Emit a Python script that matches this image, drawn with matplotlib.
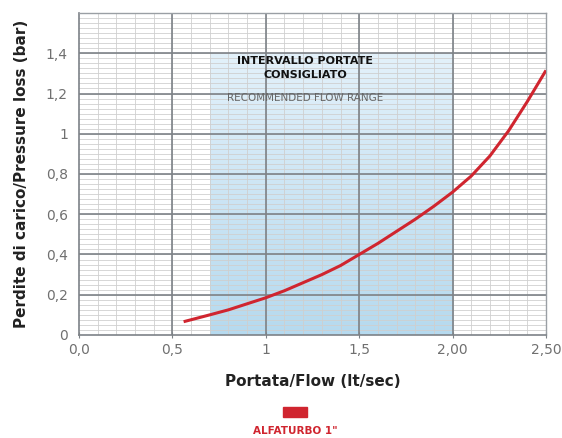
import numpy as np
import matplotlib.pyplot as plt
from matplotlib.colors import LinearSegmentedColormap

# dati
portata = [0.56, 0.7, 0.8, 0.9, 1.0, 1.1, 1.2, 1.3, 1.4, 1.5,
           1.6, 1.7, 1.8, 1.9, 2.0, 2.1, 2.2, 2.3, 2.4, 2.5]
perdite = [0.066, 0.10, 0.125, 0.155, 0.185, 0.22, 0.26, 0.30, 0.345, 0.40,
           0.455, 0.515, 0.575, 0.64, 0.71, 0.79, 0.89, 1.015, 1.16, 1.315]
x_ticks = [0.0, 0.5, 1.0, 1.5, 2.0, 2.5]
x_labels = ['0,0', '0,5', '1', '1,5', '2,00', '2,50']
y_ticks = [0, 0.2, 0.4, 0.6, 0.8, 1.0, 1.2, 1.4]
y_labels = ['0', '0,2', '0,4', '0,6', '0,8', '1', '1,2', '1,4']
range_min, range_max = 0.7, 2.0
serie = 'ALFATURBO 1"'

plt.rcParams['font.family'] = ['DejaVu Sans']

fig = plt.figure(figsize=(5.62, 4.38), dpi=100)
ax = fig.add_axes([0.1406, 0.2352, 0.8309, 0.7351])
ax.set_xlim(0, 2.5)
ax.set_ylim(0, 1.6)

# zona consigliata con sfumatura (chiaro in alto, più scuro in basso)
grad = np.linspace(0, 1, 256).reshape(-1, 1)
cmap = LinearSegmentedColormap.from_list('blu', ['#e3f1fa', '#b6daef'])
ax.imshow(grad, extent=[range_min, range_max, 0, 1.4], aspect='auto',
          cmap=cmap, origin='upper', zorder=0)

# griglia disegnata a mano per controllare l'ordine
for xv in np.arange(0.1, 2.5, 0.1):
    ax.axvline(xv, color='#cfcfcf', lw=0.7, alpha=0.85, zorder=1)
for yv in np.arange(0.025, 1.6, 0.025):
    ax.axhline(yv, color='#cfcfcf', lw=0.7, alpha=0.85, zorder=1)
for xv in x_ticks[1:-1]:
    ax.axvline(xv, color='#7d8287', lw=1.2, zorder=2)
for yv in y_ticks[1:]:
    ax.axhline(yv, color='#7d8287', lw=1.2, zorder=2)

ax.set_xticks(x_ticks)
ax.set_xticklabels(x_labels)
ax.set_yticks(y_ticks)
ax.set_yticklabels(y_labels)
ax.tick_params(axis='both', which='major', labelsize=10, labelcolor='#707070',
               color='#7d8287')
ax.tick_params(axis='x', which='major', length=4, direction='inout', pad=4)
ax.tick_params(axis='y', which='major', length=0, pad=8)

for s in ['left', 'bottom']:
    ax.spines[s].set_color('#7d8287')
    ax.spines[s].set_linewidth(1.2)
for s in ['top', 'right']:
    ax.spines[s].set_color('#9a9fa4')
    ax.spines[s].set_linewidth(1.0)

ax.plot(portata, perdite, color='#d0252f', lw=2.2, zorder=3,
        solid_capstyle='butt', solid_joinstyle='round')

ax.text(1.21, 1.326, 'INTERVALLO PORTATE\nCONSIGLIATO', ha='center', va='center',
        fontsize=8, fontweight='heavy', color='#111111', linespacing=1.45, zorder=4)
ax.text(1.21, 1.177, 'RECOMMENDED FLOW RANGE', ha='center', va='center',
        fontsize=7.5, color='#666666', zorder=4)

ax.set_xlabel('Portata/Flow (lt/sec)', fontsize=11, fontweight='bold',
              color='#222222', labelpad=12)
ax.set_ylabel('Perdite di carico/Pressure loss (bar)', fontsize=11,
              fontweight='bold', color='#222222', labelpad=12)

# legenda
fig.patches.append(plt.Rectangle((283 / 562, 1 - 417 / 438), 24 / 562, 10 / 438,
                                 transform=fig.transFigure, color='#d0252f'))
fig.text(295 / 562, 1 - 431 / 438, serie, ha='center', va='center',
         fontsize=7.5, fontweight='bold', color='#d0252f')

fig.savefig('out.png', dpi=100)
